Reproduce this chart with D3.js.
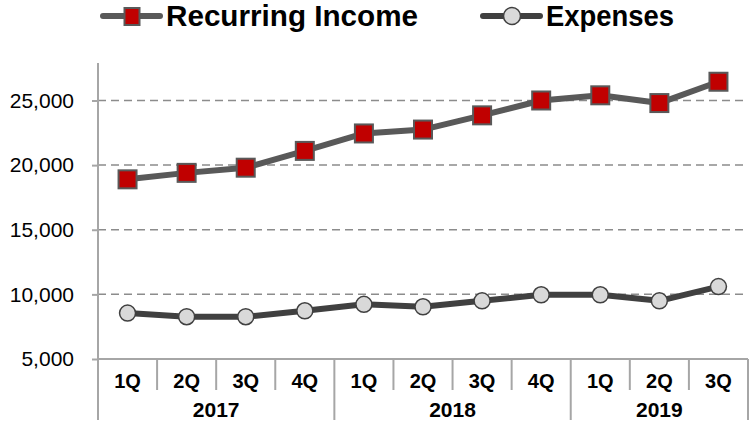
<!DOCTYPE html>
<html>
<head>
<meta charset="utf-8">
<script src="https://cdn.jsdelivr.net/npm/d3@7"></script>
<style>
  html, body { margin: 0; padding: 0; background: #fff; }
  svg { display: block; font-family: "Liberation Sans", Arial, sans-serif; }
</style>
</head>
<body>
<svg id="chart" width="750" height="423"></svg>
<script>
// Quarterly figures, 2017–2019
const quarters = ["1Q", "2Q", "3Q", "4Q", "1Q", "2Q", "3Q", "4Q", "1Q", "2Q", "3Q"];
const years = [
  { label: "2017", count: 4 },
  { label: "2018", count: 4 },
  { label: "2019", count: 3 }
];
const recurringIncome = [18900, 19400, 19800, 21100, 22450, 22750, 23850, 25000, 25400, 24800, 26450];
const expenses = [8550, 8270, 8270, 8730, 9230, 9040, 9500, 9970, 9970, 9500, 10600];
const yTicks = [5000, 10000, 15000, 20000, 25000];
const yDomain = [5000, 27900];

const svg = d3.select("#chart");
const plotLeft = 98, plotRight = 748, plotTop = 63, plotBottom = 359;
const quarterRowBottom = 390, yearRowBottom = 420;

const x = d3.scaleBand().domain(d3.range(quarters.length)).range([plotLeft, plotRight]).paddingInner(0).paddingOuter(0);
const y = d3.scaleLinear().domain(yDomain).range([plotBottom, plotTop]);
const cx = i => x(i) + x.bandwidth() / 2;
const edge = i => i < quarters.length ? x(i) : plotRight;

const axisGrey = "#a6a6a6";

// Dashed horizontal gridlines
svg.append("g")
  .selectAll("line")
  .data(yTicks.filter(t => t > yDomain[0]))
  .join("line")
  .attr("x1", plotLeft).attr("x2", plotRight)
  .attr("y1", d => y(d)).attr("y2", d => y(d))
  .attr("stroke", "#8c8c8c")
  .attr("stroke-width", 1.5)
  .attr("stroke-dasharray", "8,5");

// Y axis with tick labels
const yAxis = d3.axisLeft(y)
  .tickValues(yTicks)
  .tickFormat(d3.format(","))
  .tickSize(6)
  .tickPadding(18);
const yg = svg.append("g").attr("transform", `translate(${plotLeft},0)`).call(yAxis);
yg.select(".domain").remove();
yg.selectAll(".tick line").attr("stroke", axisGrey).attr("stroke-width", 2);
yg.selectAll(".tick text")
  .attr("fill", "#000")
  .style("font-size", "21px")
  .style("font-family", "'Liberation Sans', Arial, sans-serif");
// vertical axis line running down through the category rows
svg.append("line")
  .attr("x1", plotLeft).attr("x2", plotLeft)
  .attr("y1", plotTop).attr("y2", yearRowBottom)
  .attr("stroke", axisGrey).attr("stroke-width", 2);

// X axis baseline
svg.append("line")
  .attr("x1", plotLeft).attr("x2", plotRight)
  .attr("y1", plotBottom).attr("y2", plotBottom)
  .attr("stroke", axisGrey).attr("stroke-width", 2);

// Quarter dividers (short) and year dividers (long)
const yearBounds = [];
let acc = 0;
years.forEach(yr => { yearBounds.push(acc); acc += yr.count; });
yearBounds.push(acc);

svg.append("g")
  .selectAll("line")
  .data(d3.range(1, quarters.length + 1))
  .join("line")
  .attr("x1", edge).attr("x2", edge)
  .attr("y1", plotBottom)
  .attr("y2", i => yearBounds.includes(i) ? yearRowBottom : quarterRowBottom)
  .attr("stroke", axisGrey).attr("stroke-width", 2);

// Quarter labels
svg.append("g")
  .selectAll("text")
  .data(quarters)
  .join("text")
  .attr("x", (d, i) => cx(i))
  .attr("y", 388)
  .attr("text-anchor", "middle")
  .style("font-size", "20px")
  .style("font-weight", "bold")
  .text(d => d);

// Year labels
svg.append("g")
  .selectAll("text")
  .data(years)
  .join("text")
  .attr("x", (d, i) => (x(yearBounds[i]) + edge(yearBounds[i + 1])) / 2)
  .attr("y", 417)
  .attr("text-anchor", "middle")
  .style("font-size", "21px")
  .style("font-weight", "bold")
  .text(d => d.label);

// Series lines
const line = d3.line().x((d, i) => cx(i)).y(d => y(d));

svg.append("path")
  .datum(recurringIncome)
  .attr("d", line)
  .attr("fill", "none")
  .attr("stroke", "#595959")
  .attr("stroke-width", 6)
  .attr("stroke-linejoin", "round");

svg.append("path")
  .datum(expenses)
  .attr("d", line)
  .attr("fill", "none")
  .attr("stroke", "#404040")
  .attr("stroke-width", 6)
  .attr("stroke-linejoin", "round");

// Markers
const sq = 18;
svg.append("g")
  .selectAll("rect")
  .data(recurringIncome)
  .join("rect")
  .attr("x", (d, i) => cx(i) - sq / 2)
  .attr("y", d => y(d) - sq / 2)
  .attr("width", sq).attr("height", sq)
  .attr("fill", "#c00000")
  .attr("stroke", "#595959")
  .attr("stroke-width", 2);

svg.append("g")
  .selectAll("circle")
  .data(expenses)
  .join("circle")
  .attr("cx", (d, i) => cx(i))
  .attr("cy", d => y(d))
  .attr("r", 8)
  .attr("fill", "#d9d9d9")
  .attr("stroke", "#404040")
  .attr("stroke-width", 1.5);

// Legend
const legend = svg.append("g");
const legendItems = [
  { name: "Recurring Income", x0: 103, textX: 166, width: 252, lineColor: "#595959", marker: "square" },
  { name: "Expenses", x0: 483, textX: 546, width: 128, lineColor: "#404040", marker: "circle" }
];
legendItems.forEach(item => {
  const g = legend.append("g");
  g.append("line")
    .attr("x1", item.x0).attr("x2", item.x0 + 57)
    .attr("y1", 16).attr("y2", 16)
    .attr("stroke", item.lineColor).attr("stroke-width", 6)
    .attr("stroke-linecap", "round");
  const mx = item.x0 + 29;
  if (item.marker === "square") {
    g.append("rect")
      .attr("x", mx - 7.5).attr("y", 8)
      .attr("width", 15).attr("height", 17)
      .attr("fill", "#c00000").attr("stroke", "#595959").attr("stroke-width", 2);
  } else {
    g.append("circle")
      .attr("cx", mx).attr("cy", 16)
      .attr("r", 8.5)
      .attr("fill", "#d9d9d9").attr("stroke", "#404040").attr("stroke-width", 1.5);
  }
  g.append("text")
    .attr("x", item.textX).attr("y", 26)
    .attr("textLength", item.width)
    .attr("lengthAdjust", "spacingAndGlyphs")
    .style("font-size", "29px")
    .style("font-weight", "bold")
    .text(item.name);
});
</script>
</body>
</html>
